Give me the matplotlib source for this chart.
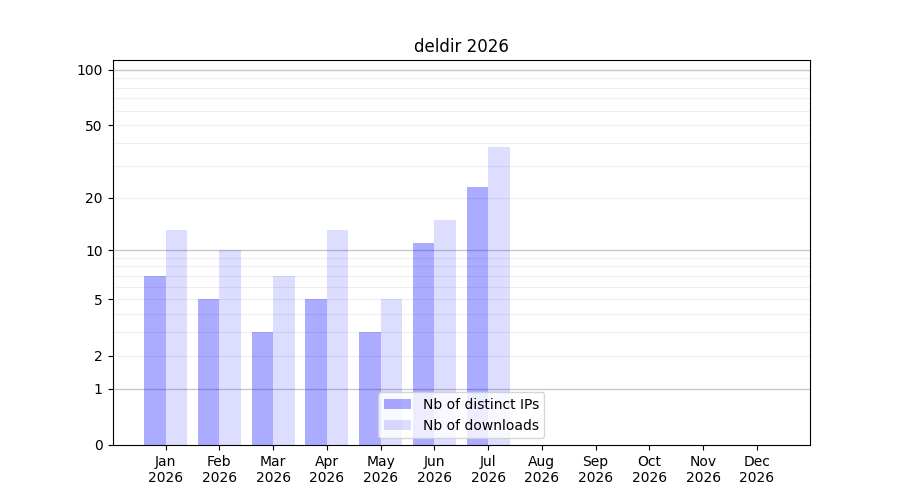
import matplotlib
matplotlib.use("Agg")
import matplotlib.pyplot as plt
import numpy as np

months = ["Jan\n2026", "Feb\n2026", "Mar\n2026", "Apr\n2026", "May\n2026", "Jun\n2026",
          "Jul\n2026", "Aug\n2026", "Sep\n2026", "Oct\n2026", "Nov\n2026", "Dec\n2026"]
distinct_ips = [7, 5, 3, 5, 3, 11, 23]
downloads = [13, 10, 7, 13, 5, 15, 38]
yticks = [0, 1, 2, 5, 10, 20, 50, 100]
major_grid = [1, 10, 100]
minor_grid = [2, 3, 4, 5, 6, 7, 8, 9, 20, 30, 40, 50, 60, 70, 80, 90]

fig, ax = plt.subplots(figsize=(9, 5), dpi=100)
ax.set_yscale("function", functions=(lambda v: np.log10(1 + np.clip(v, 0, None)),
                                     lambda v: 10 ** v - 1))

x = np.arange(len(months))
n = len(distinct_ips)
for v in minor_grid:
    ax.axhline(v, color="#eeeeee", linewidth=0.8, zorder=0)
for v in major_grid:
    ax.axhline(v, color="#c8c8c8", linewidth=1.0, zorder=0)

ax.bar(x[:n], distinct_ips, width=-0.4, align="edge", color="blue", alpha=0.33,
       label="Nb of distinct IPs", zorder=2)
ax.bar(x[:n], downloads, width=0.4, align="edge", color="blue", alpha=0.135,
       label="Nb of downloads", zorder=2)

ax.set_xticks(x)
ax.set_xticklabels(months)
ax.set_xlim(-0.99, 11.99)
ax.set_yticks(yticks)
ax.set_yticklabels([str(t) for t in yticks])
ax.yaxis.set_minor_locator(matplotlib.ticker.NullLocator())
ax.set_ylim(0, 113)
ax.set_title("deldir 2026")
ax.legend(loc="lower center")

fig.savefig("out.png", dpi=100)
